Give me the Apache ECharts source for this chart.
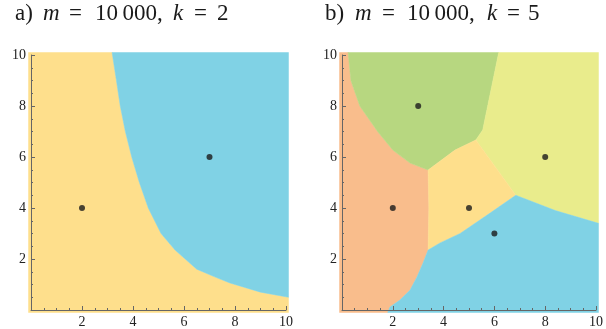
<!DOCTYPE html>
<html><head><meta charset="utf-8">
<script src="https://cdn.jsdelivr.net/npm/echarts@6/dist/echarts.min.js"></script>
<style>html,body{margin:0;padding:0;background:#fff}#c{width:606px;height:329px}</style>
</head><body><div id="c"></div>
<script>
// ---------- data ----------
const axisMin = 0, axisMax = 10, tickStep = 2;
const tickLabels = ['2', '4', '6', '8', '10'];

// panel a) m = 10000, k = 2
const titleA = ['a)', 'm', '=', '10\u2009000,', 'k', '=', '2'];
const aCentroids = [[2, 4], [7, 6]];
const aYellow = [[0,0],[10,0],[10,0.5],[9,0.7],[7.8,1.06],[7.2,1.3],[6.5,1.6],[5.65,2.35],[5.1,3],[4.6,4],[4.25,5],[3.95,6],[3.7,7],[3.5,8],[3.35,9],[3.18,10],[0,10]];
const aBlue   = [[3.18,10],[10,10],[10,0.5],[9,0.7],[7.8,1.06],[7.2,1.3],[6.5,1.6],[5.65,2.35],[5.1,3],[4.6,4],[4.25,5],[3.95,6],[3.7,7],[3.5,8],[3.35,9]];

// panel b) m = 10000, k = 5
const titleB = ['b)', 'm', '=', '10\u2009000,', 'k', '=', '5'];
const bCentroids = [[3, 8], [2, 4], [5, 4], [6, 3], [8, 6]];
const bOrange = [[0,0],[1.8,0],[1.89,0.12],[2.28,0.39],[2.68,0.78],[2.95,1.29],[3.19,1.84],[3.39,2.35],[3.42,4],[3.39,5.49],[2.68,5.76],[2.0,6.27],[1.4,7],[0.7,8],[0.35,9],[0.24,10],[0,10]];
const bGreen  = [[0.24,10],[6.17,10],[5.54,7.06],[5.27,6.67],[4.45,6.27],[3.39,5.49],[2.68,5.76],[2.0,6.27],[1.4,7],[0.7,8],[0.35,9]];
const bLime   = [[6.17,10],[10,10],[10,3.4],[8.4,3.9],[6.84,4.5],[5.27,6.67],[5.54,7.06]];
const bYellow = [[3.39,5.49],[4.45,6.27],[5.27,6.67],[6.84,4.5],[5.83,3.8],[4.65,3.0],[3.86,2.63],[3.39,2.35],[3.42,4]];
const bBlue   = [[1.8,0],[10,0],[10,3.4],[8.4,3.9],[6.84,4.5],[5.83,3.8],[4.65,3.0],[3.86,2.63],[3.39,2.35],[3.19,1.84],[2.95,1.29],[2.68,0.78],[2.28,0.39],[1.89,0.12]];

// ---------- styles ----------
const C = { yellow: '#fedf8c', blue: '#80d2e5', green: '#b7d780', orange: '#f9bd8c', lime: '#e9ec8c' };
const PAD = 2.5;
const FONT = '"Liberation Serif", "DejaVu Serif", serif';
const titleXA = [15, 43, 69, 95, 173, 194, 217];
const titleXB = [325, 355, 382, 407, 487, 507, 528];
const italicTok = [false, true, false, false, true, false, false];

function regionSeries(gridIdx, regions, colors) {
  return {
    type: 'custom', xAxisIndex: gridIdx, yAxisIndex: gridIdx, clip: false, z: 1, silent: true,
    data: regions.map((r, i) => [i]),
    encode: { x: -1, y: -1 },
    renderItem: function (params, api) {
      const poly = regions[params.dataIndex];
      const pts = poly.map(p => {
        const c = api.coord(p);
        if (p[0] <= axisMin) c[0] -= PAD; if (p[0] >= axisMax) c[0] += PAD;
        if (p[1] <= axisMin) c[1] += PAD; if (p[1] >= axisMax) c[1] -= PAD;
        return c;
      });
      return { type: 'polygon', shape: { points: pts }, style: { fill: colors[params.dataIndex], stroke: colors[params.dataIndex], lineWidth: 0.5 } };
    }
  };
}
function centroidSeries(gridIdx, pts) {
  return { type: 'scatter', xAxisIndex: gridIdx, yAxisIndex: gridIdx, data: pts, symbolSize: 6, z: 3, silent: true,
    itemStyle: { color: '#1a1a1a' } };
}
function axis(gridIdx) {
  return {
    type: 'value', gridIndex: gridIdx, min: axisMin, max: axisMax, interval: tickStep, z: 5,
    axisLine: { show: true, lineStyle: { color: '#666', width: 1 } },
    axisTick: { show: true, inside: true, length: 4, lineStyle: { color: '#666' } },
    minorTick: { show: true, splitNumber: 4, length: 2, lineStyle: { color: '#666' } },
    splitLine: { show: false }, minorSplitLine: { show: false },
    axisLabel: { fontFamily: FONT, fontSize: 14, color: '#222', margin: 5,
      formatter: v => tickLabels.includes(String(v)) ? String(v) : '' }
  };
}
function titleGraphics(tokens, xs) {
  return tokens.map((t, i) => ({
    type: 'text', left: xs[i], top: 2, silent: true,
    style: { text: t, fill: '#1a1a1a', font: (italicTok[i] ? 'italic ' : '') + '23px ' + FONT }
  }));
}

const chart = echarts.init(document.getElementById('c'), null, { renderer: 'canvas' });
chart.setOption({
  animation: false,
  graphic: titleGraphics(titleA, titleXA).concat(titleGraphics(titleB, titleXB)),
  grid: [
    { left: 31, top: 55, width: 255, height: 255 },
    { left: 342, top: 55, width: 254, height: 255 }
  ],
  xAxis: [axis(0), axis(1)],
  yAxis: [axis(0), axis(1)],
  series: [
    regionSeries(0, [aYellow, aBlue], [C.yellow, C.blue]),
    centroidSeries(0, aCentroids),
    regionSeries(1, [bOrange, bGreen, bLime, bYellow, bBlue], [C.orange, C.green, C.lime, C.yellow, C.blue]),
    centroidSeries(1, bCentroids)
  ]
});
</script></body></html>
